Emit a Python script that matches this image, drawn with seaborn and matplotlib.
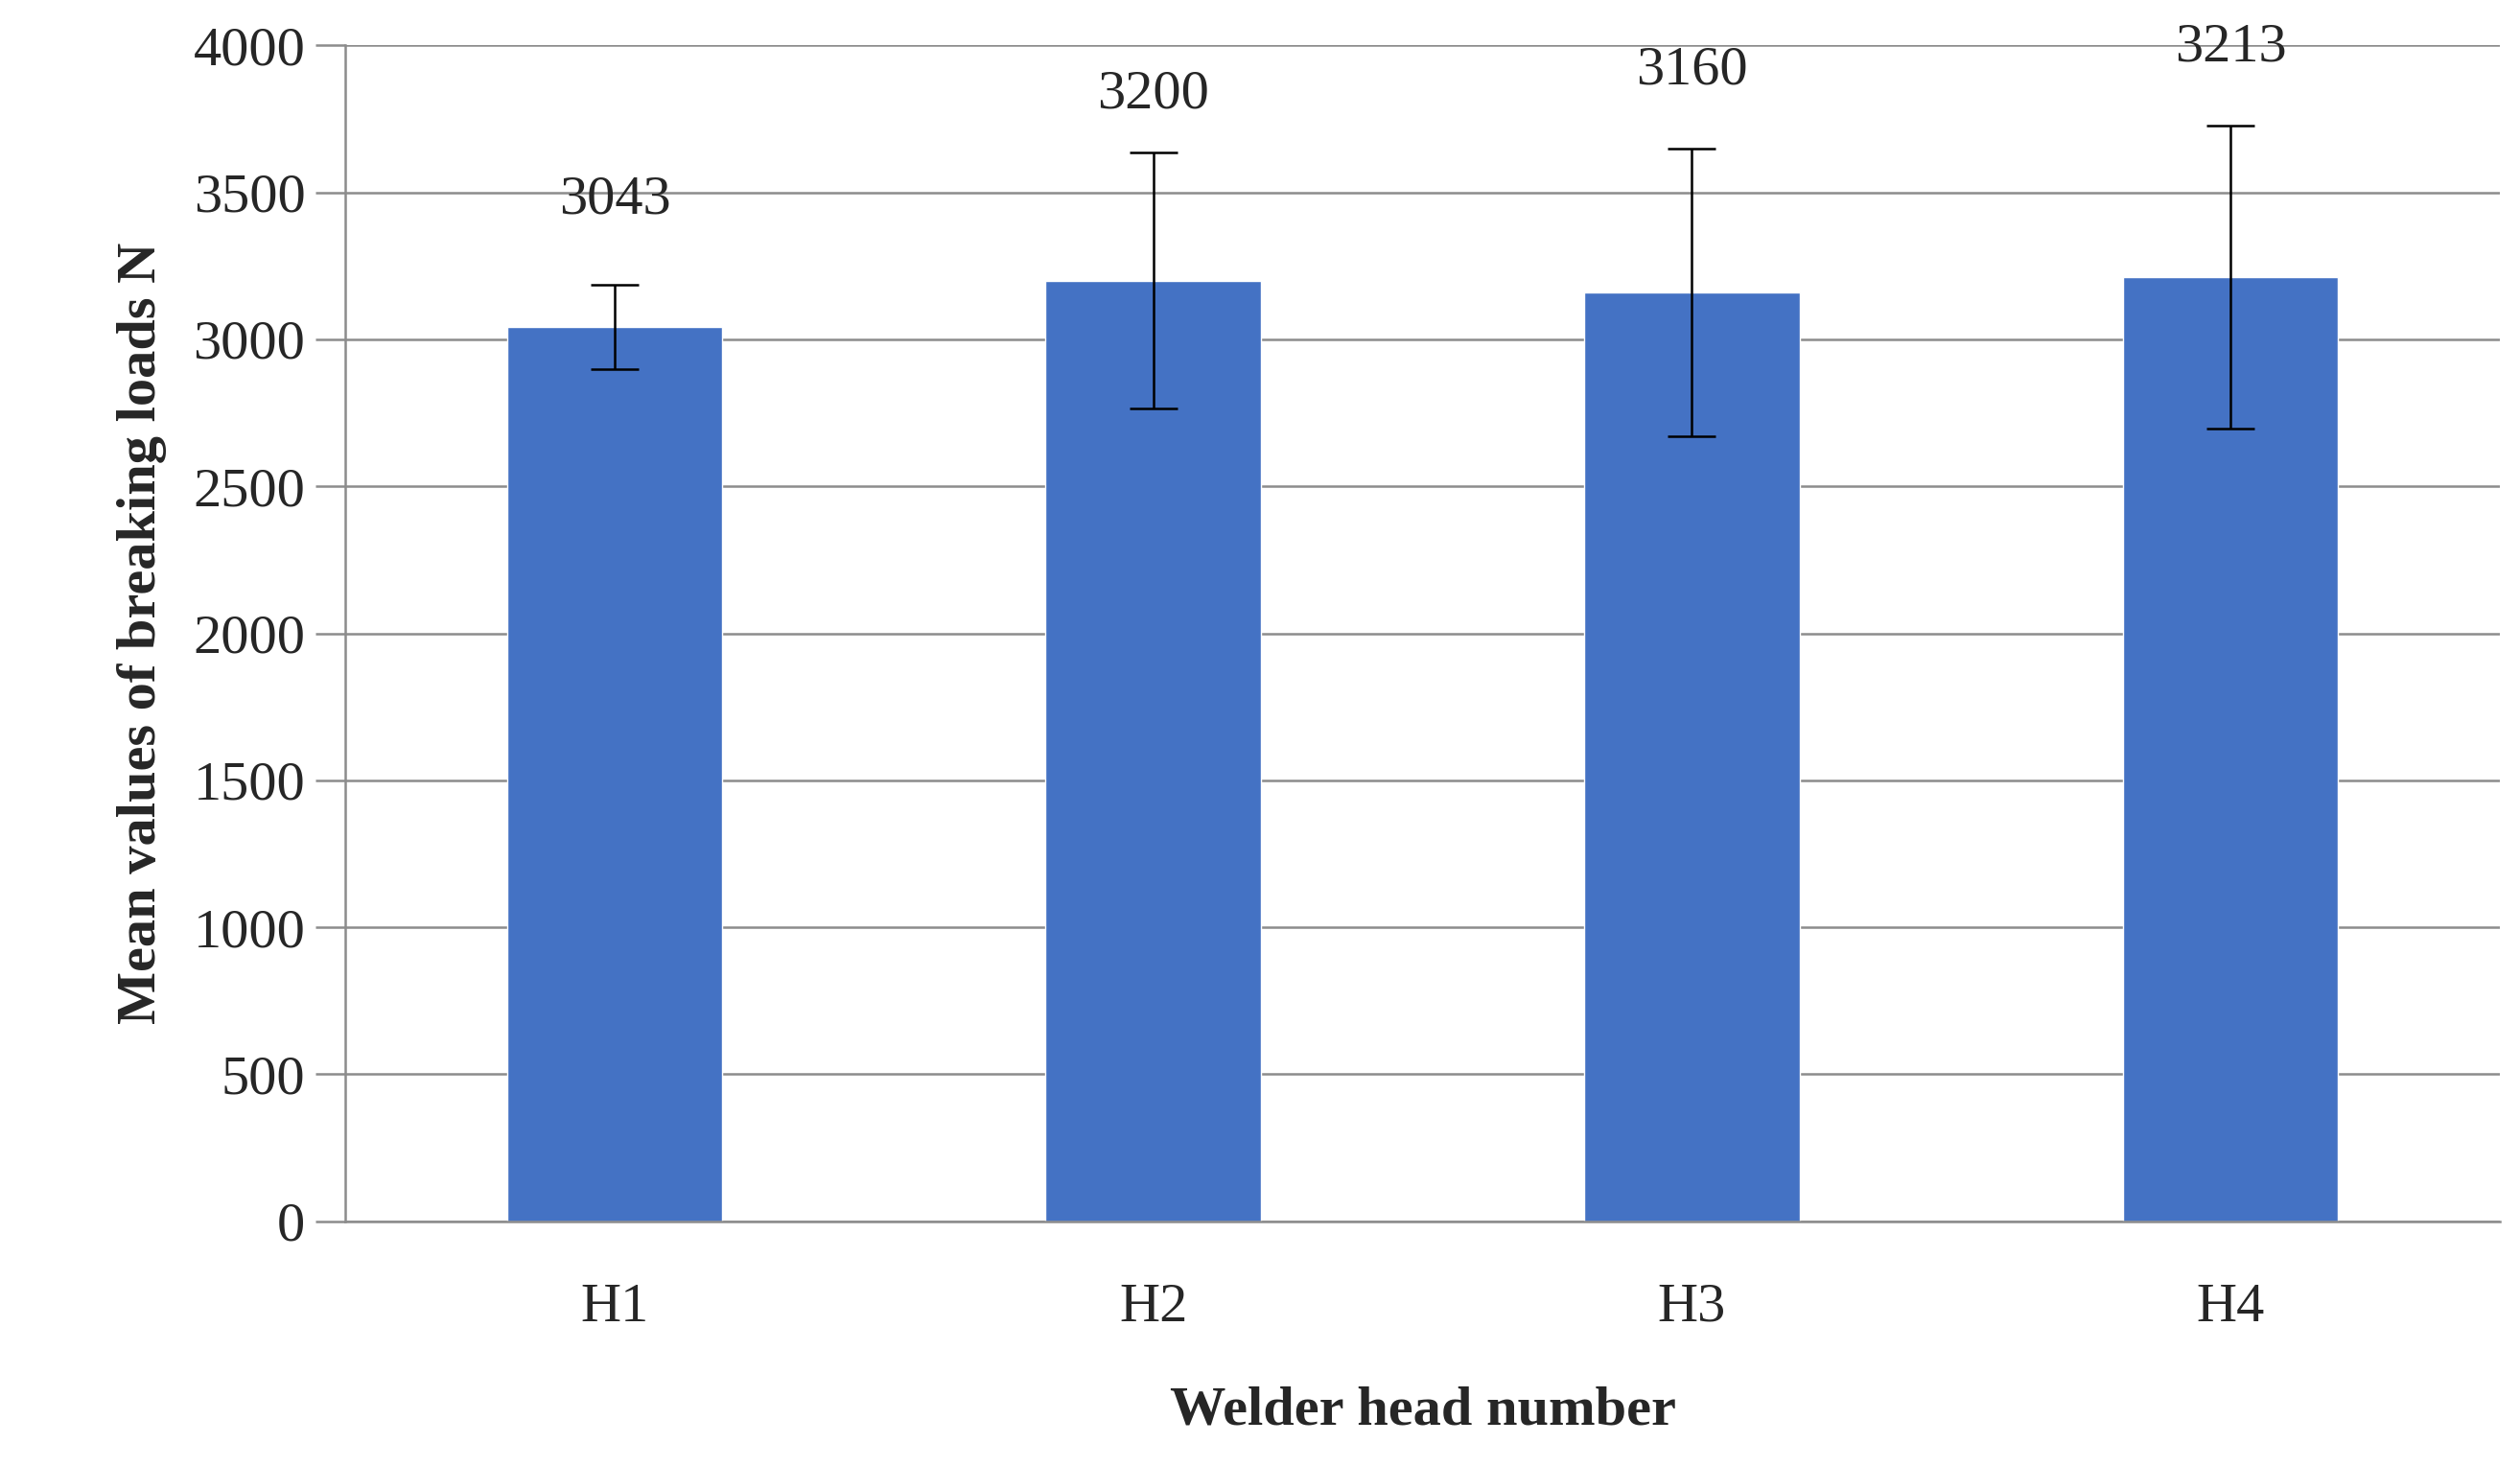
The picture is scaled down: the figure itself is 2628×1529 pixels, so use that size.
import matplotlib
matplotlib.use("Agg")
import matplotlib.pyplot as plt
import seaborn as sns
import pandas as pd

heads = ["H1", "H2", "H3", "H4"]
means = [3043, 3200, 3160, 3213]
errors = [143, 435, 490, 515]
label_offsets = [45, 25, 40, 40]  # points above error bar top

sns.set_theme(style="white")
plt.rcParams['font.family'] = ['Liberation Serif', 'DejaVu Serif']

fig = plt.figure(figsize=(26.28, 15.29), dpi=100)
ax = fig.add_axes([0.137, 0.167, 0.855, 0.802])
df = pd.DataFrame({"head": heads, "mean": means})
sns.barplot(data=df, x="head", y="mean", color="#4472C4", width=0.4,
            saturation=1, ax=ax, errorbar=None)
ax.errorbar(range(len(heads)), means, yerr=errors, fmt="none",
            ecolor="black", elinewidth=1.8, capsize=18, capthick=1.8)
for i, (m, e, o) in enumerate(zip(means, errors, label_offsets)):
    ax.annotate(str(m), (i, m + e), xytext=(0, o), textcoords="offset points",
                ha="center", va="bottom", fontsize=42)
ax.set_ylim(0, 4000)
ax.set_yticks(range(0, 4001, 500))
ax.set_xlim(-0.5, 3.5)
ax.yaxis.grid(True, color="#8c8c8c", linewidth=1.8)
ax.set_axisbelow(True)
for s in ["top", "right"]:
    ax.spines[s].set_visible(False)
ax.spines["left"].set_color("#8c8c8c")
ax.spines["bottom"].set_color("#8c8c8c")
ax.spines["left"].set_linewidth(1.8)
ax.spines["bottom"].set_linewidth(1.8)
ax.tick_params(axis="y", left=True, length=22, width=1.8, color="#8c8c8c",
               labelsize=42, pad=8)
ax.tick_params(axis="x", bottom=False, labelsize=42, pad=40)
ax.set_xlabel("Welder head number", fontsize=42, fontweight="bold", labelpad=40)
ax.set_ylabel("Mean values of breaking loads N", fontsize=42, fontweight="bold", labelpad=20)
fig.savefig("out.png", dpi=100)
